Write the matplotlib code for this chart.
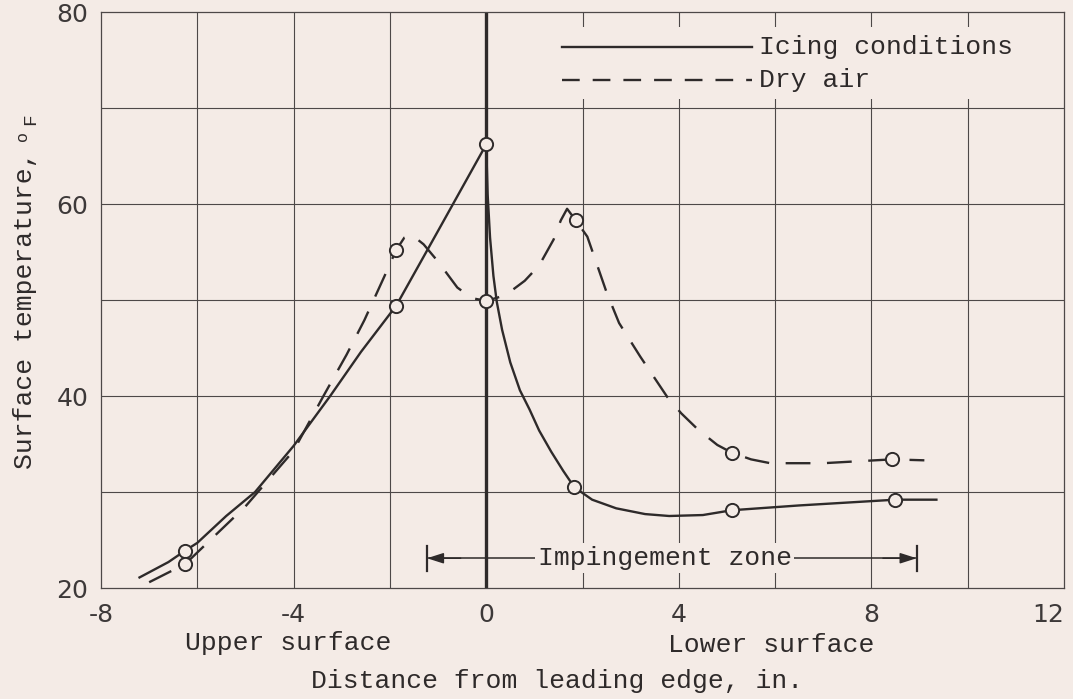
import matplotlib
matplotlib.use("Agg")
import matplotlib.pyplot as plt
from matplotlib.patches import Rectangle

PAPER = "#f4ebe6"
INK = "#2e2a2a"
GRID = "#4d4848"
MONO = ["Liberation Mono", "DejaVu Sans Mono"]

# Measured test points
icing_x = [-6.25, -1.87, 0.0, 1.83, 5.1, 8.5]
icing_y = [23.9, 49.4, 66.2, 30.5, 28.1, 29.2]
dry_x = [-6.25, -1.87, 0.0, 1.86, 5.1, 8.43]
dry_y = [22.5, 55.2, 49.9, 58.3, 34.1, 33.4]

# Faired curves, icing conditions: upper-surface branch and lower-surface branch
icing_upper_x = [-7.2, -6.6, -6.25, -6.0, -5.4, -4.8, -4.0, -3.24, -2.6, -1.87, -1.0, 0.0]
icing_upper_y = [21.1, 22.7, 23.9, 24.7, 27.5, 30.0, 34.8, 40.0, 44.6, 49.4, 57.2, 66.2]
icing_lower_x = [0.0, 0.03, 0.08, 0.15, 0.22, 0.33, 0.5, 0.7, 0.9, 1.1, 1.35, 1.6, 1.83,
                 2.2, 2.7, 3.3, 3.8, 4.5, 5.1, 6.5, 8.5, 9.35]
icing_lower_y = [66.2, 61.0, 56.5, 52.5, 49.8, 46.9, 43.5, 40.6, 38.6, 36.4, 34.2, 32.2, 30.5,
                 29.2, 28.3, 27.7, 27.5, 27.6, 28.1, 28.6, 29.2, 29.2]

# Faired curve, dry air
dry_curve_x = [-7.0, -6.25, -5.0, -4.0, -3.38, -2.9, -2.53, -2.12, -1.87, -1.7, -1.55, -1.3,
               -1.0, -0.6, -0.3, 0.0, 0.4, 0.8, 1.1, 1.4, 1.55, 1.68, 1.86, 2.1, 2.5, 2.76,
               3.2, 3.76, 4.05, 4.4, 4.8, 5.1, 5.5, 5.9, 7.0, 8.43, 9.1]
dry_curve_y = [20.6, 22.5, 28.5, 34.3, 40.0, 44.3, 47.9, 52.4, 55.2, 56.5, 56.8, 55.8,
               54.0, 51.3, 50.2, 49.9, 50.5, 52.0, 53.6, 56.3, 58.3, 59.5, 58.3, 56.6, 50.8, 47.6,
               44.1, 39.9, 38.2, 36.5, 34.9, 34.1, 33.4, 33.0, 33.0, 33.4, 33.3]

x_ticks = [-8, -4, 0, 4, 8, 12]
x_tick_labels = ["-8", "-4", "0", "4", "8", "12"]
y_ticks = [20, 40, 60, 80]
y_tick_labels = ["20", "40", "60", "80"]

legend_labels = ["Icing conditions", "Dry air"]
zone_label = "Impingement zone"
zone_start, zone_end = -1.23, 8.94

W, H = 1073, 699
fig = plt.figure(figsize=(W / 100, H / 100), dpi=100, facecolor=PAPER)
left, right, top, bottom = 101, 1064, 12, 588
ax = fig.add_axes([left / W, 1 - bottom / H, (right - left) / W, (bottom - top) / H])
ax.set_facecolor(PAPER)
ax.set_xlim(-8, 12)
ax.set_ylim(20, 80)

# Grid
for gx in range(-6, 12, 2):
    if gx != 0:
        ax.axvline(gx, color=GRID, lw=0.8, zorder=0.5)
for gy in range(30, 80, 10):
    ax.axhline(gy, color=GRID, lw=0.8, zorder=0.5)
for s in ax.spines.values():
    s.set_color(GRID)
    s.set_linewidth(0.9)

# Leading edge
ax.axvline(0, color=INK, lw=2.4, zorder=2)

ax.set_xticks(x_ticks)
ax.set_xticklabels(x_tick_labels)
ax.set_yticks(y_ticks)
ax.set_yticklabels(y_tick_labels)
ax.tick_params(length=0, labelsize=18, colors="#3d3939", pad=9)
ax.tick_params(axis="x", pad=11)
for lab in ax.get_xticklabels() + ax.get_yticklabels():
    lab.set_family("DejaVu Sans")
ax.get_xticklabels()[-1].set_horizontalalignment("right")
ax.get_xticklabels()[-1].set_x(12.1)

dash = (10.5, 7.0)
ax.plot(icing_upper_x, icing_upper_y, color=INK, lw=1.7, zorder=3, solid_joinstyle="round")
ax.plot(icing_lower_x, icing_lower_y, color=INK, lw=1.7, zorder=3, solid_joinstyle="round")
ax.plot(dry_curve_x, dry_curve_y, color=INK, lw=1.7, zorder=3, dashes=dash)
ax.plot(icing_x, icing_y, "o", ms=9.5, mfc=PAPER, mec=INK, mew=1.4, zorder=4)
ax.plot(dry_x, dry_y, "o", ms=9.5, mfc=PAPER, mec=INK, mew=1.4, zorder=4)

# Key
ax.add_patch(Rectangle((1.2, 70.9), 10.65, 7.5, facecolor=PAPER, edgecolor="none", zorder=1))
ax.plot([1.58, 5.52], [76.4, 76.4], color=INK, lw=1.7, zorder=3)
ax.plot([1.58, 5.52], [72.9, 72.9], color=INK, lw=1.7, zorder=3, dashes=(7.5, 5.5))
ax.text(5.66, 76.4, legend_labels[0], family=MONO, fontsize=19, color=INK, va="center", zorder=3)
ax.text(5.66, 72.9, legend_labels[1], family=MONO, fontsize=19, color=INK, va="center", zorder=3)

# Impingement zone
zy = 23.1
ax.plot([zone_start, zone_end], [zy, zy], color=INK, lw=1.1, zorder=3)
for xb in (zone_start, zone_end):
    ax.plot([xb, xb], [zy - 1.3, zy + 1.3], color=INK, lw=1.6, zorder=3)
head = "-|>,head_length=1.0,head_width=0.32"
ax.annotate("", xy=(zone_start, zy), xytext=(zone_start + 0.7, zy),
            arrowprops=dict(arrowstyle=head, color=INK, lw=1.1, shrinkA=0, shrinkB=0),
            zorder=3)
ax.annotate("", xy=(zone_end, zy), xytext=(zone_end - 0.7, zy),
            arrowprops=dict(arrowstyle=head, color=INK, lw=1.1, shrinkA=0, shrinkB=0),
            zorder=3)
ax.text((zone_start + zone_end) / 2 - 0.15, zy, zone_label, family=MONO, fontsize=19, color=INK,
        ha="center", va="center", zorder=3,
        bbox=dict(facecolor=PAPER, edgecolor="none", pad=2))

# Axis titles
fig.text(288 / W, 1 - 643 / H, "Upper surface", family=MONO, fontsize=19, color=INK,
         ha="center", va="center")
fig.text(771 / W, 1 - 645 / H, "Lower surface", family=MONO, fontsize=19, color=INK,
         ha="center", va="center")
fig.text(557 / W, 1 - 681 / H, "Distance from leading edge, in.", family=MONO, fontsize=19,
         color=INK, ha="center", va="center")
fig.text(25 / W, 1 - 310 / H, "Surface temperature,", family=MONO, fontsize=19, color=INK,
         rotation=90, ha="center", va="center")
fig.text(22 / W, 1 - 136 / H, "o", family=MONO, fontsize=12, color=INK,
         rotation=90, ha="center", va="center")
fig.text(31 / W, 1 - 119 / H, "F", family=MONO, fontsize=14, color=INK,
         rotation=90, ha="center", va="center")

fig.savefig("out.png", dpi=100, facecolor=PAPER)
